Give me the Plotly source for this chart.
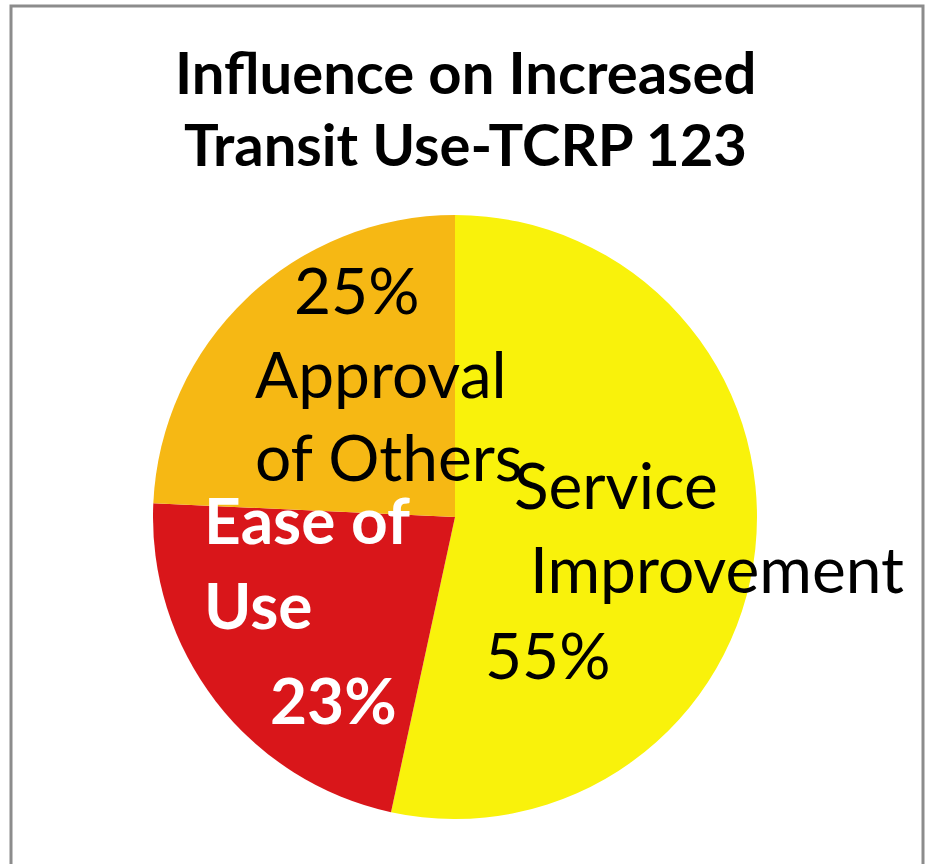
import plotly.graph_objects as go

W, H = 927, 864

# ---- data ----
categories = ["Service Improvement", "Ease of Use", "Approval of Others"]
values = [55, 23, 25]
colors = ["#F9F20B", "#D9161A", "#F6B814"]

title_lines = ["Influence on Increased", "Transit Use-TCRP 123"]

# label lines: (text, x_px, baseline_px, anchor, color, bold)
label_lines = [
    ("25%", 357, 313, "center", "black", False),
    ("Approval", 253, 397, "left", "black", False),
    ("of Others", 253, 480, "left", "black", False),
    ("Service", 512, 508, "left", "black", False),
    ("Improvement", 528, 592, "left", "black", False),
    ("55%", 483, 678, "left", "black", False),
    ("Ease of", 202, 543, "left", "white", True),
    ("Use", 202, 628, "left", "white", True),
    ("23%", 268, 723, "left", "white", True),
]

FONT = "Lato"
LBL_SIZE = 64
TITLE_SIZE = 58

fig = go.Figure(
    go.Pie(
        labels=categories,
        values=values,
        marker=dict(colors=colors, line=dict(width=0)),
        sort=False,
        direction="clockwise",
        rotation=0,
        textinfo="none",
        hoverinfo="label+value",
        domain=dict(x=[153 / W, 757 / W], y=[1 - 819 / H, 1 - 215 / H]),
        showlegend=False,
    )
)

annotations = []
for i, t in enumerate(title_lines):
    base = [92, 164][i]
    annotations.append(dict(
        text=f"<b>{t}</b>", x=466 / W, y=1 - (base - 0.36 * TITLE_SIZE) / H,
        xref="paper", yref="paper", xanchor="center", yanchor="middle",
        showarrow=False, font=dict(family=FONT, size=TITLE_SIZE, color="black"),
    ))

for text, xp, bp, anchor, col, bold in label_lines:
    annotations.append(dict(
        text=f"<b>{text}</b>" if bold else text,
        x=xp / W, y=1 - (bp - 0.36 * LBL_SIZE) / H,
        xref="paper", yref="paper", xanchor=anchor, yanchor="middle",
        showarrow=False, font=dict(family=FONT, size=LBL_SIZE, color=col),
    ))

fig.update_layout(
    width=W, height=H,
    margin=dict(l=0, r=0, t=0, b=0),
    paper_bgcolor="white",
    plot_bgcolor="white",
    annotations=annotations,
    shapes=[dict(type="rect", xref="paper", yref="paper",
                 x0=11 / W, x1=923 / W, y0=-0.05, y1=1 - 6 / H,
                 line=dict(color="#8C8C8C", width=3))],
)

fig.write_html(
    "out.html",
    config={"displayModeBar": False},
    post_script="document.body.style.margin='0';document.body.style.overflow='hidden';",
)
